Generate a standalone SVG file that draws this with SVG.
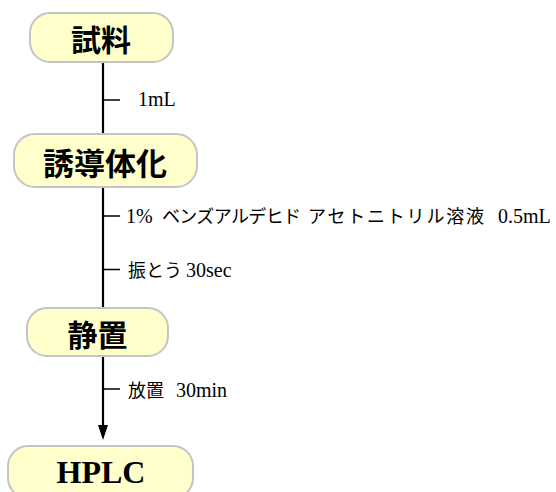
<svg xmlns="http://www.w3.org/2000/svg" width="556" height="492" viewBox="0 0 556 492">
  <style>
    .node rect { fill: #FFFFCC; stroke: #C4C4C4; stroke-width: 2; }
    .ntext { font-family: "Noto Sans CJK JP", sans-serif; font-weight: bold; fill: #000; text-anchor: middle; dominant-baseline: central; }
    .lat { font-family: "Liberation Serif", serif; font-size: 20px; fill: #000; }
    .cjk { font-family: "Noto Sans CJK JP", sans-serif; font-size: 18px; fill: #000; }
    .main { stroke: #000; stroke-width: 2.2; fill: none; }
    .tick { stroke: #000; stroke-width: 1.5; fill: none; }
  </style>
  <rect width="556" height="492" fill="#ffffff"/>
  <g id="connectors">
    <line class="main" x1="103" y1="62" x2="103" y2="428"/>
    <path d="M98,425 L108,425 L103,440 Z" fill="#000"/>
    <line class="tick" x1="103" y1="100" x2="120" y2="100"/>
    <line class="tick" x1="103" y1="216" x2="120" y2="216"/>
    <line class="tick" x1="103" y1="269.5" x2="120" y2="269.5"/>
    <line class="tick" x1="103" y1="389" x2="120" y2="389"/>
    <text class="lat" x="138" y="106">1mL</text>
    <text y="223"><tspan class="lat" x="126">1%</tspan><tspan class="cjk" x="162" textLength="139" lengthAdjust="spacing">ベンズアルデヒド</tspan><tspan class="cjk" x="308" textLength="176" lengthAdjust="spacing">アセトニトリル溶液</tspan><tspan class="lat" x="498">0.5mL</tspan></text>
    <text y="277"><tspan class="cjk" x="128">振とう</tspan><tspan class="lat" x="186">30sec</tspan></text>
    <text y="397"><tspan class="cjk" x="128">放置</tspan><tspan class="lat" x="176">30min</tspan></text>
  </g>
  <g id="node-shiryo" class="node">
    <rect x="30" y="13" width="143" height="49" rx="20" ry="20"/>
    <text class="ntext" x="101" y="38" font-size="30">試料</text>
  </g>
  <g id="node-yudotaika" class="node">
    <rect x="14" y="134" width="183" height="53" rx="21" ry="21"/>
    <text class="ntext" x="105" y="161" font-size="31">誘導体化</text>
  </g>
  <g id="node-seichi" class="node">
    <rect x="27" y="308" width="141" height="48" rx="20" ry="20"/>
    <text class="ntext" x="97.5" y="333" font-size="30">静置</text>
  </g>
  <g id="node-hplc" class="node">
    <rect x="8" y="446" width="185" height="52" rx="20" ry="20"/>
    <text x="101" y="483" font-family="Liberation Serif, serif" font-weight="bold" font-size="32" text-anchor="middle" fill="#000">HPLC</text>
  </g>
</svg>
